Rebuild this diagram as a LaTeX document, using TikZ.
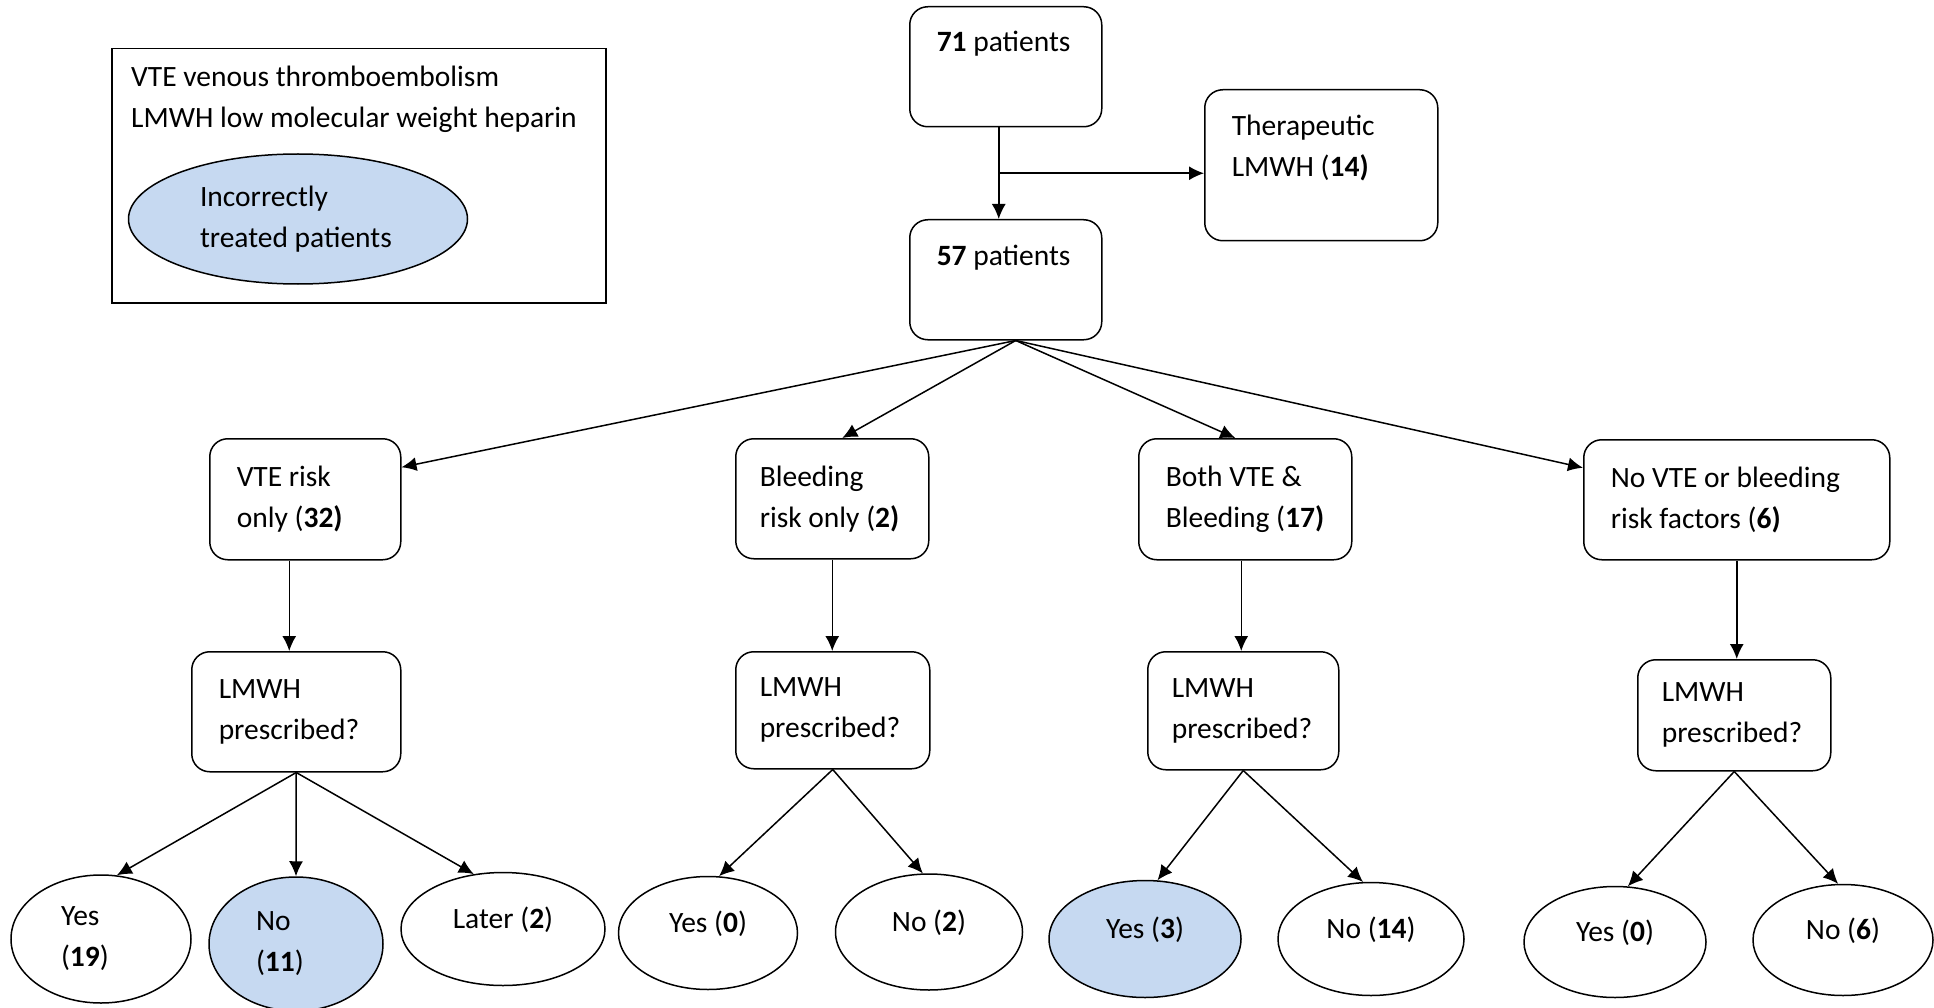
\documentclass[tikz,border=0pt]{standalone}
\usepackage{fontspec}
\setmainfont{Carlito}
\usetikzlibrary{arrows.meta,shapes.geometric,positioning,calc}

\definecolor{wrongblue}{HTML}{C6D9F1}

\tikzset{
  box/.style={draw, line width=1.5pt, rounded corners=18pt, align=flush left,
    anchor=north west, inner xsep=27pt, inner ysep=0pt},
  oval/.style={draw, ellipse, line width=1.5pt, inner sep=0pt, align=flush left},
  oneline/.style={oval, text depth=22pt},
  arr/.style={-{Latex[length=15pt,width=14pt]}, line width=1.5pt},
}

\begin{document}
\begin{tikzpicture}[x=1pt,y=-1pt,font=\fontsize{29.5}{41}\selectfont]
  \useasboundingbox (0,0) rectangle (1934,1008);

  % legend
  \node[draw, line width=1.5pt, minimum width=494pt, minimum height=254pt, anchor=north west, inner sep=0pt] (legend) at (111,48) {};
  \node[align=flush left, anchor=west, inner sep=0pt] (legtxt) at (131,99) {VTE venous thromboembolism\\LMWH low molecular weight heparin};
  \node[oval, fill=wrongblue, minimum width=339pt, minimum height=130pt, text width=196pt] (legell) at (298,219) {Incorrectly\\treated patients};

  % top of the tree
  \node[box, text width=138pt, text height=45pt, text depth=75pt] (top) at (909,6) {\textbf{71} patients};
  \node[box, text width=179pt, text height=46pt, text depth=105pt] (ther) at (1204,89) {Therapeutic\\LMWH (\textbf{14)}};
  \node[box, text width=138pt, text height=46pt, text depth=74pt] (mid) at (909,219) {\textbf{57} patients};

  % risk groups
  \node[box, text width=137pt, minimum height=121pt] (vte) at (209,438) {VTE risk\\only (\textbf{32)}};
  \node[box, text width=145pt, inner xsep=24pt, minimum height=120pt] (bld) at (735,438) {Bleeding\\risk only (\textbf{2)}};
  \node[box, text width=159pt, minimum height=121pt] (both) at (1138,438) {Both VTE \&\\Bleeding (\textbf{17)}};
  \node[box, text width=252pt, minimum height=120pt] (none) at (1583,439) {No VTE or bleeding\\risk factors (\textbf{6)}};

  % LMWH questions
  \node[box, text width=155pt, minimum height=120pt] (lm1) at (191,651) {LMWH\\prescribed?};
  \node[box, text width=146pt, inner xsep=24pt, minimum height=117pt] (lm2) at (735,651) {LMWH\\prescribed?};
  \node[box, text width=143pt, inner xsep=24pt, minimum height=118pt] (lm3) at (1147,651) {LMWH\\prescribed?};
  \node[box, text width=145pt, inner xsep=24pt, minimum height=111pt] (lm4) at (1637,659) {LMWH\\prescribed?};

  % answers
  \node[oval, minimum width=180pt, minimum height=128pt, text width=80pt] (y1) at (101,939) {Yes\\(\textbf{19})};
  \node[oval, fill=wrongblue, minimum width=174pt, minimum height=134pt, text width=80pt] (n1) at (296,944) {No\\(\textbf{11})};
  \node[oneline, minimum width=204pt, minimum height=113pt] (l1) at (503,929) {Later (\textbf{2})};
  \node[oneline, minimum width=179pt, minimum height=113pt] (y2) at (708,933) {Yes (\textbf{0})};
  \node[oneline, minimum width=187pt, minimum height=116pt] (n2) at (929,932) {No (\textbf{2})};
  \node[oneline, fill=wrongblue, minimum width=192pt, minimum height=117pt] (y3) at (1145,939) {Yes (\textbf{3})};
  \node[oneline, minimum width=186pt, minimum height=113pt] (n3) at (1371,939) {No (\textbf{14})};
  \node[oneline, minimum width=182pt, minimum height=111pt] (y4) at (1615,942) {Yes (\textbf{0})};
  \node[oneline, minimum width=180pt, minimum height=111pt] (n4) at (1843,940) {No (\textbf{6})};

  % connectors
  \coordinate (trunk) at ([xshift=-7pt]top.south);
  \coordinate (split) at ($(trunk)!0.5!(trunk |- mid.north)$);
  \draw[arr] (trunk) -- (trunk |- mid.north);
  \draw[arr] (split) -- (split -| ther.west);

  \coordinate (fan) at ([xshift=10pt]mid.south);
  \draw[arr] (fan) -- ([yshift=32pt]vte.east);
  \draw[arr] (fan) -- ([xshift=10pt]bld.north);
  \draw[arr] (fan) -- ([xshift=-10pt]both.north);
  \draw[arr] (fan) -- ([yshift=32pt]none.west);

  \foreach \a/\b/\s in {vte/lm1/-16, bld/lm2/0, both/lm3/-4, none/lm4/0}{
    \coordinate (st) at ([xshift=\s pt]\a.south);
    \draw[arr] (st) -- (st |- \b.north);
  }

  \foreach \a/\b/\ang in {lm1/y1/76, lm1/n1/90, lm1/l1/118, lm2/y2/79, lm2/n2/96, lm3/y3/78, lm3/n3/98, lm4/y4/77, lm4/n4/95}
    \draw[arr] (\a.south) -- (\b.\ang);
\end{tikzpicture}
\end{document}
